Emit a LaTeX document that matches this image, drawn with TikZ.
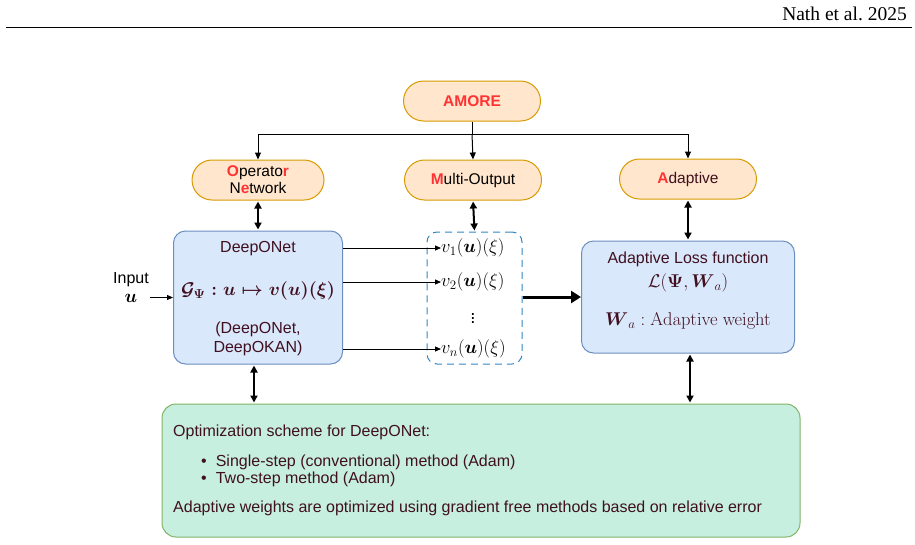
\documentclass[tikz,border=0pt]{standalone}
\usepackage{fix-cm}
\usepackage{amsmath}
\usepackage{amssymb}
\usepackage[no-math]{fontspec}
\setmainfont{Liberation Sans}
\newfontfamily\hdrfont{Liberation Serif}
\usetikzlibrary{arrows.meta}
\definecolor{pillfill}{HTML}{FFE6CC}
\definecolor{pilldraw}{HTML}{D79B00}
\definecolor{boxfill}{HTML}{DAE8FC}
\definecolor{boxdraw}{HTML}{6C8EBF}
\definecolor{optfill}{HTML}{C6EFE0}
\definecolor{optdraw}{HTML}{82B366}
\definecolor{dashblue}{HTML}{2F86C3}
\definecolor{hl}{HTML}{FF3333}
\definecolor{txt}{HTML}{40101F}

\begin{document}
\begin{tikzpicture}[x=1pt,y=-1pt,>={Triangle[length=7pt,width=6pt]},
    pill/.style={draw=pilldraw,fill=pillfill,rounded corners=20pt,minimum width=137pt,
        minimum height=40pt,line width=1pt,align=center,inner sep=0pt,
        font=\fontsize{15.5}{17}\selectfont},
    bluebox/.style={draw=boxdraw,fill=boxfill,rounded corners=12pt,line width=1pt},
    lbl/.style={text=txt,inner sep=0pt,font=\fontsize{16}{19}\selectfont},
    mth/.style={text=txt,inner sep=0pt,font=\fontsize{18.5}{21}\selectfont},
    dbl/.style={<->,line width=2pt,shorten <=1pt,shorten >=1pt,>={Triangle[length=7pt,width=7pt]}},
    feed/.style={->,line width=0.8pt,>={Triangle[length=6pt,width=5pt]}}]
\useasboundingbox (0,0) rectangle (915,544);
% header
\node[anchor=base east,inner sep=0pt,font=\hdrfont\fontsize{19.5}{22}\selectfont] (hdr) at (907,20) {Nath et al.~2025};
\draw[line width=1.3pt] (6,27.5) -- (912,27.5);
% top row
\node[pill] (amore) at (472,101) {\textcolor{hl}{\bfseries AMORE}};
\node[pill,minimum width=132pt] (opnet) at (258,180) {\textcolor{hl}{\bfseries O}perato\textcolor{hl}{\bfseries r}\\N\textcolor{hl}{\bfseries e}twork};
\node[pill] (multi) at (473,180) {\textcolor{hl}{\bfseries M}ulti-Output};
\node[pill,text=txt] (adapt) at (688,179) {\textcolor{hl}{\bfseries A}daptive};
\coordinate (split) at (472,134);
\draw[line width=1pt] (amore.south) -- (split);
\draw[->,line width=1pt] (split) -| (opnet.north);
\draw[->,line width=1pt] (split) -| (adapt.north);
\draw[->,line width=1pt] (split) -- (multi.north);
% DeepONet
\node[bluebox,minimum width=169pt,minimum height=133pt] (dnet) at (258,297.5) {};
\node[lbl] (dname) at (258,249) {DeepONet};
\node[mth] (dmap) at (258,291) {$\boldsymbol{\mathcal{G}_{\Psi} : u \mapsto v(u)(\xi)}$};
\node[lbl,align=center] (dkind) at (258,339) {(DeepONet,\\DeepOKAN)};
\node[lbl,text=black,align=center] (input) at (131,287) {Input\\\fontsize{18.5}{20}\selectfont$\boldsymbol{u}$};
\draw[feed] (input.east |- dnet.west) ++(1,0) -- (dnet.west);
% outputs
\node[draw=dashblue,dashed,dash pattern=on 7pt off 5pt,line width=1pt,rounded corners=10pt,
    minimum width=95pt,minimum height=132pt] (outs) at (474.5,298) {};
\node[mth,text=black,anchor=west] (v1) at (441,248) {$v_1(\boldsymbol{u})(\xi)$};
\node[mth,text=black,anchor=west] (v2) at (441,282) {$v_2(\boldsymbol{u})(\xi)$};
\node[mth,text=black] (vdots) at (473,316) {$\vdots$};
\node[mth,text=black,anchor=west] (vn) at (441,349) {$v_n(\boldsymbol{u})(\xi)$};
\draw[feed] (dnet.east |- v1.west) -- (v1.west);
\draw[feed] (dnet.east |- v2.west) -- (v2.west);
\draw[feed] (dnet.east |- vn.west) -- (vn.west);
\draw[dbl] (opnet.south) -- (dnet.north);
\draw[dbl] (multi.south) -- (outs.north);
% adaptive loss
\node[bluebox,minimum width=213pt,minimum height=112pt] (loss) at (688,297) {};
\node[lbl] (ltitle) at (688,259) {Adaptive Loss function};
\node[mth] (lfun) at (688,283) {$\mathcal{L}(\boldsymbol{\Psi},\boldsymbol{W}_a)$};
\node[mth] (lwt) at (688,321) {$\boldsymbol{W}_a : \mathrm{Adaptive\ weight}$};
\draw[->,line width=3pt,>={Triangle[length=10pt,width=12pt]}] (outs.east |- loss.west) -- (loss.west);
\draw[dbl] (adapt.south) -- (loss.north);
% optimization
\node[draw=optdraw,fill=optfill,rounded corners=14pt,line width=1pt,
    minimum width=638pt,minimum height=133pt] (opt) at (481,470.5) {};
\node[lbl,anchor=west] (otitle) at (173,432) {Optimization scheme for DeepONet:};
\node[lbl,anchor=west] (ob1) at (201,462) {\textbullet\hspace{9pt}Single-step (conventional) method (Adam)};
\node[lbl,anchor=west] (ob2) at (201,479) {\textbullet\hspace{9pt}Two-step method (Adam)};
\node[lbl,anchor=west] (onote) at (173,508) {Adaptive weights are optimized using gradient free methods based on relative error};
\draw[dbl] ([xshift=-4pt]dnet.south) -- ([xshift=-4pt]dnet.south |- opt.north);
\draw[dbl] ([xshift=2pt]loss.south) -- ([xshift=2pt]loss.south |- opt.north);
\end{tikzpicture}
\end{document}
